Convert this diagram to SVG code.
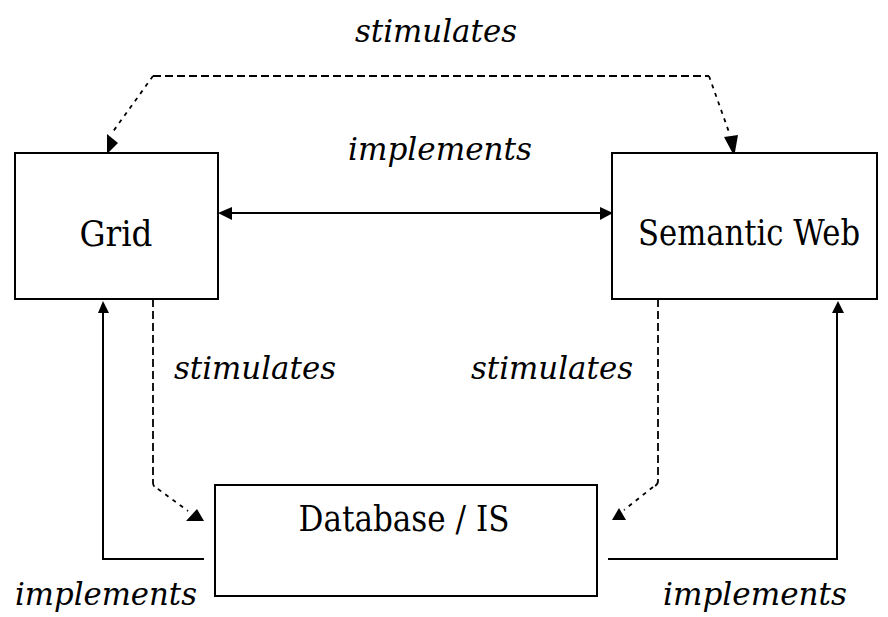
<svg xmlns="http://www.w3.org/2000/svg" width="888" height="617" viewBox="0 0 888 617">
<style>
  .box { fill: #fff; stroke: #000; stroke-width: 2; }
  .name { font-family: 'DejaVu Serif', serif; font-size: 35px; fill: #000; text-anchor: middle; }
  .lbl { font-family: 'DejaVu Serif', serif; font-style: italic; font-size: 32px; fill: #000; text-anchor: middle; }
  .solid { fill: none; stroke: #000; stroke-width: 2; }
  .dash { fill: none; stroke: #000; stroke-width: 1.8; stroke-dasharray: 8 4; }
  .dot { fill: none; stroke: #000; stroke-width: 1.8; stroke-dasharray: 4 5; }
  .head { fill: #000; stroke: none; }
</style>
<rect width="888" height="617" fill="#fff"/>

<g id="connectors">
  <path class="dash" d="M153,76 H709"/>
  <path class="dot" d="M153,76 L112,133"/>
  <path class="dot" d="M709,76 L730,135"/>
  <polygon class="head" points="107,134 118,143 109,152 107,152"/>
  <polygon class="head" points="724,137 738,135 735,152 732,152"/>

  <path class="solid" d="M222,213 H608"/>
  <polygon class="head" points="218,213 232,207 232,220"/>
  <polygon class="head" points="613,213 600,207 600,220"/>

  <path class="dash" d="M153,299 V483 Q153,487 158,489"/>
  <path class="dot" d="M158,489 L188,511"/>
  <polygon class="head" points="186,521 204,521 197,509"/>

  <path class="dash" d="M658,299 V481 Q658,485 653,487"/>
  <path class="dot" d="M653,487 L624,510"/>
  <polygon class="head" points="612,520 626,520 619,508"/>

  <path class="solid" d="M204,559 H103 V310"/>
  <polygon class="head" points="103,301 98,313 109,313"/>

  <path class="solid" d="M608,559 H837 V310"/>
  <polygon class="head" points="838,301 832,313 844,313"/>

  <text class="lbl" x="436" y="42" textLength="162" lengthAdjust="spacingAndGlyphs">stimulates</text>
  <text class="lbl" x="440" y="160" textLength="184" lengthAdjust="spacingAndGlyphs">implements</text>
  <text class="lbl" x="255" y="379" textLength="162" lengthAdjust="spacingAndGlyphs">stimulates</text>
  <text class="lbl" x="552" y="379" textLength="162" lengthAdjust="spacingAndGlyphs">stimulates</text>
  <text class="lbl" x="106" y="605" textLength="182" lengthAdjust="spacingAndGlyphs">implements</text>
  <text class="lbl" x="755" y="605" textLength="184" lengthAdjust="spacingAndGlyphs">implements</text>
</g>

<g id="grid">
  <rect class="box" x="15" y="153" width="203" height="146"/>
  <text class="name" x="116" y="246" textLength="73" lengthAdjust="spacingAndGlyphs">Grid</text>
</g>

<g id="semantic-web">
  <rect class="box" x="612" y="153" width="265" height="146"/>
  <text class="name" x="749" y="245" textLength="222" lengthAdjust="spacingAndGlyphs">Semantic Web</text>
</g>

<g id="database">
  <rect class="box" x="215" y="485" width="382" height="111"/>
  <text class="name" x="404" y="531" textLength="211" lengthAdjust="spacingAndGlyphs">Database / IS</text>
</g>
</svg>
